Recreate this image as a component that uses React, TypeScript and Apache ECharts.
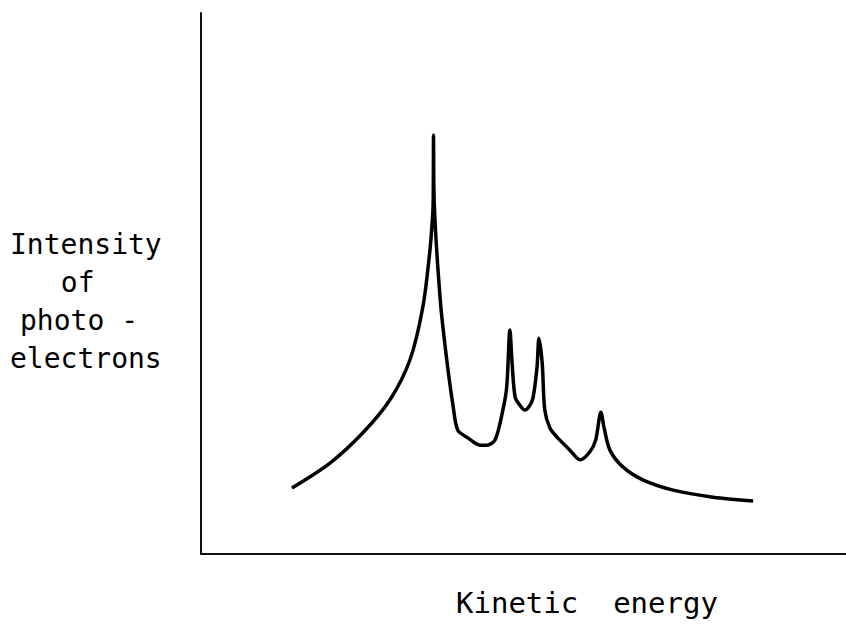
import React, { useEffect, useRef } from "react";
import * as echarts from "echarts";

// Kinetic energy (arbitrary units, 0-100 across the axis)
const energy = [
  14.1, 20.0, 25.1, 29.3, 32.4, 34.4, 35.5, 35.9, 36.0, 36.05, 36.15, 37.1, 38.1, 39.1,
  39.8, 41.2, 43.3, 44.3, 45.6, 46.8, 47.4, 47.9, 48.2, 48.7, 49.5, 50.2, 51.0,
  51.5, 52.1, 52.4, 52.9, 53.3, 54.1, 55.2, 57.2, 58.8, 60.3, 61.2, 62.0, 62.5,
  63.4, 65.4, 68.5, 73.2, 79.4, 85.6,
];
// Intensity of photoelectrons (arbitrary units, 0-100 up the axis)
const intensity = [
  12.2, 16.8, 22.4, 28.5, 35.9, 45.7, 56.2, 62.3, 65.4, 77.4, 65.4, 46.9, 35.9, 27.2,
  22.9, 21.6, 20.1, 20.1, 21.1, 26.6, 30.9, 41.4, 35.9, 29.0, 27.4, 26.6, 27.5,
  29.0, 34.6, 39.9, 35.3, 26.6, 23.3, 21.6, 19.2, 17.4, 18.9, 21.1, 26.2, 23.3,
  19.2, 16.1, 13.7, 11.8, 10.5, 9.8,
];
const yLabelLines = ["Intensity", " of", "photo -", "electrons"];
const xLabel = "Kinetic  energy";

export default function App() {
  const ref = useRef<HTMLDivElement>(null);
  useEffect(() => {
    if (!ref.current) return;
    const chart = echarts.init(ref.current, null, { renderer: "svg" });
    const font = "'DejaVu Sans Mono', monospace";
    const lineX = [10, 44, 20, 10];
    const lineY = [230, 268, 306, 344];
    chart.setOption({
      animation: false,
      backgroundColor: "#ffffff",
      grid: { left: 201, right: 0, top: 13, bottom: 76 },
      xAxis: {
        type: "value",
        min: 0,
        max: 100,
        axisLine: { show: true, lineStyle: { color: "#111", width: 2 } },
        axisTick: { show: false },
        axisLabel: { show: false },
        splitLine: { show: false },
      },
      yAxis: {
        type: "value",
        min: 0,
        max: 100,
        axisLine: { show: true, lineStyle: { color: "#111", width: 2 } },
        axisTick: { show: false },
        axisLabel: { show: false },
        splitLine: { show: false },
      },
      series: [
        {
          type: "line",
          data: energy.map((e, i) => [e, intensity[i]]),
          smooth: 0.3,
          showSymbol: false,
          lineStyle: { color: "#000", width: 3.5 },
        },
      ],
      graphic: [
        ...yLabelLines.map((t, i) => ({
          type: "text",
          left: lineX[i],
          top: lineY[i],
          style: { text: t, font: `28px ${font}`, fill: "#000" },
        })),
        {
          type: "text",
          left: 456,
          top: 588,
          style: { text: xLabel, font: `29px ${font}`, fill: "#000" },
        },
      ],
    });
    return () => chart.dispose();
  }, []);
  return (
    <div
      ref={ref}
      style={{ width: 846, height: 630, position: "fixed", left: 0, top: 0 }}
    />
  );
}
